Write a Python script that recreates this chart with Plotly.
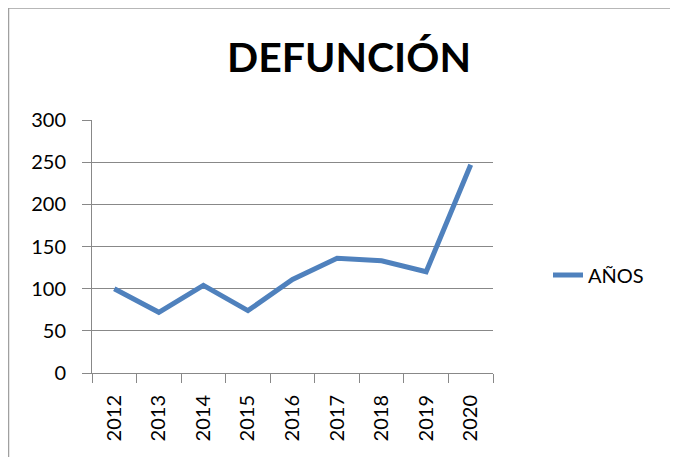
import plotly.graph_objects as go

years = ["2012", "2013", "2014", "2015", "2016", "2017", "2018", "2019", "2020"]
defunciones = [100, 72, 104, 74, 111, 136, 133, 120, 247]
series_name = "AÑOS"
title_text = "DEFUNCIÓN"
y_ticks = [0, 50, 100, 150, 200, 250, 300]

# page has an 8px body margin, so the figure is drawn offset by 8px
OFF = 8
W, H = 678 - OFF, 457 - OFF
L, T = 92 - OFF, 120 - OFF
PR, PB = 493 - OFF, 373 - OFF
R, B = W - PR, H - PB
pw, ph = PR - L, PB - T

fig = go.Figure()
fig.add_trace(go.Scatter(
    x=years, y=defunciones, mode="lines", name=series_name,
    line=dict(color="#4F81BD", width=5),
))

fig.update_layout(
    width=W, height=H,
    margin=dict(l=L, r=R, t=T, b=B, autoexpand=False),
    paper_bgcolor="white", plot_bgcolor="white",
    font=dict(family="Lato, 'Open Sans', sans-serif", color="black", size=20),
    title=dict(text="<b>" + title_text + "</b>", x=(349 - OFF) / W, xanchor="center",
               y=1 - (58 - OFF) / H, yanchor="middle",
               font=dict(size=41, family="Lato, 'Open Sans', sans-serif", color="black")),
    showlegend=True,
    legend=dict(x=(548 - OFF - L) / pw, y=(PB - (275 - OFF)) / ph, xanchor="left", yanchor="middle",
                font=dict(size=20), bgcolor="rgba(0,0,0,0)"),
    shapes=[dict(type="rect", xref="paper", yref="paper",
                 x0=(0.5 - L) / pw, x1=(W + 20 - L) / pw,
                 y0=(PB - 0) / ph, y1=-1.0,
                 line=dict(color="#A0A0A0", width=1.5), layer="below")],
)

fig.update_xaxes(
    type="category", tickangle=-90, showgrid=False,
    showline=True, linecolor="#888888", linewidth=1,
    ticks="outside", tickson="boundaries", ticklen=9, tickcolor="#888888",
    tickfont=dict(size=20), range=[-0.5, len(years) - 0.5],
    ticklabelstandoff=13,
)
fig.update_yaxes(
    range=[0, 300], tickvals=y_ticks, showgrid=True, gridcolor="#888888", gridwidth=1,
    showline=True, linecolor="#888888", linewidth=1,
    ticks="outside", ticklen=9, tickcolor="#888888", zeroline=False,
    tickfont=dict(size=20), ticklabelstandoff=12,
)

fig.write_html("out.html")
